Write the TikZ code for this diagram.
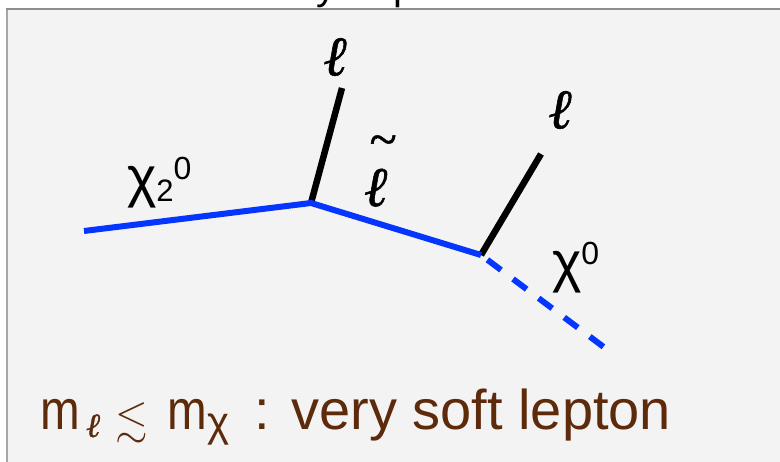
\RequirePackage{fix-cm}
\documentclass[tikz,border=0pt]{standalone}
\usepackage{graphicx}
\usepackage{amssymb}
\usepackage{fontspec}
\setmainfont{Liberation Sans}
\newfontfamily\ellfam{Liberation Serif}[UprightFont=* Italic, FakeBold=1.0]
\definecolor{panel}{HTML}{F3F3F3}
\definecolor{frameT}{HTML}{8E8E8E}
\definecolor{frameL}{HTML}{A6A6A6}
\definecolor{fblue}{HTML}{0536FF}
\definecolor{brn}{HTML}{5E2A0C}
\newcommand{\narrowm}{\scalebox{0.85}[1]{m}}
\tikzset{
  prop/.style={line width=6pt, draw=fblue, line cap=butt},
  propdash/.style={prop, dash pattern=on 17pt off 15pt, dash phase=24pt},
  lep/.style={line width=6.5pt, draw=black, line cap=butt},
  lbl/.style={inner sep=0pt, outer sep=0pt},
  big/.style={font=\fontsize{56}{60}\selectfont},
  ellfont/.style={font=\ellfam\fontsize{56}{56}\selectfont},
}
\begin{document}
\begin{tikzpicture}[x=1pt,y=-1pt]
\useasboundingbox (0,0) rectangle (780,462);
% cut-off heading fragments
\begin{scope}
  \clip (0,0) rectangle (780,8.5);
  \node[lbl, anchor=base, font=\fontsize{40}{40}\selectfont] (ty) at (326,0) {y};
  \node[lbl, anchor=base west, font=\fontsize{40}{40}\selectfont] (tp) at (393,0) {p};
\end{scope}
% panel
\fill[panel] (7,9) rectangle (790,470);
\draw[frameL, line width=2pt] (7,9) -- (7,470);
\draw[frameT, line width=2pt] (6,9) -- (790,9);

% vertices
\coordinate (v0) at (84,231);
\coordinate (v1) at (311,203);
\coordinate (v2) at (481,255);
\coordinate (v3) at (605,348);
\coordinate (e1) at (342,88);
\coordinate (e2) at (541,154);

% lepton legs
\draw[lep] (v1) -- (e1);
\draw[lep] (v2) -- (e2);
% neutralino / slepton lines
\draw[prop, line join=miter] (v0) -- (v1) -- (v2);
\draw[propdash] (v2) -- (v3);

% labels
\node[lbl, ellfont] (l1) at (335,57) {ℓ};
\node[lbl, ellfont] (l2) at (560,110) {ℓ};
\node[lbl, ellfont, anchor=base west] (sl) at (364,206)
  {\rlap{\hspace{5pt}\raisebox{50pt}{\fontsize{50}{50}\selectfont\char"7E}}ℓ};
\node[lbl, big, anchor=base west] (chi2) at (127,197)
  {χ\raisebox{-5pt}{\fontsize{31}{31}\selectfont 2}\raisebox{17pt}{\fontsize{32}{32}\selectfont 0}};
\node[lbl, big, anchor=base west] (chi1) at (552,282)
  {χ\raisebox{17pt}{\fontsize{32}{32}\selectfont 0}};

% bottom caption
\node[lbl, big, anchor=base west, text=brn] (cap) at (40,430)
  {\makebox[46pt][l]{\narrowm}%
   \makebox[30pt][l]{\raisebox{-7pt}{\ellfam\fontsize{34}{34}\selectfont ℓ}}%
   \makebox[52pt][l]{\raisebox{-4pt}{\fontsize{42}{42}\selectfont$\lesssim$}}%
   \makebox[40pt][l]{\narrowm}%
   \makebox[47pt][l]{\raisebox{-7pt}{\fontsize{42}{42}\selectfont χ}}%
   : very soft lepton};
\end{tikzpicture}
\end{document}
